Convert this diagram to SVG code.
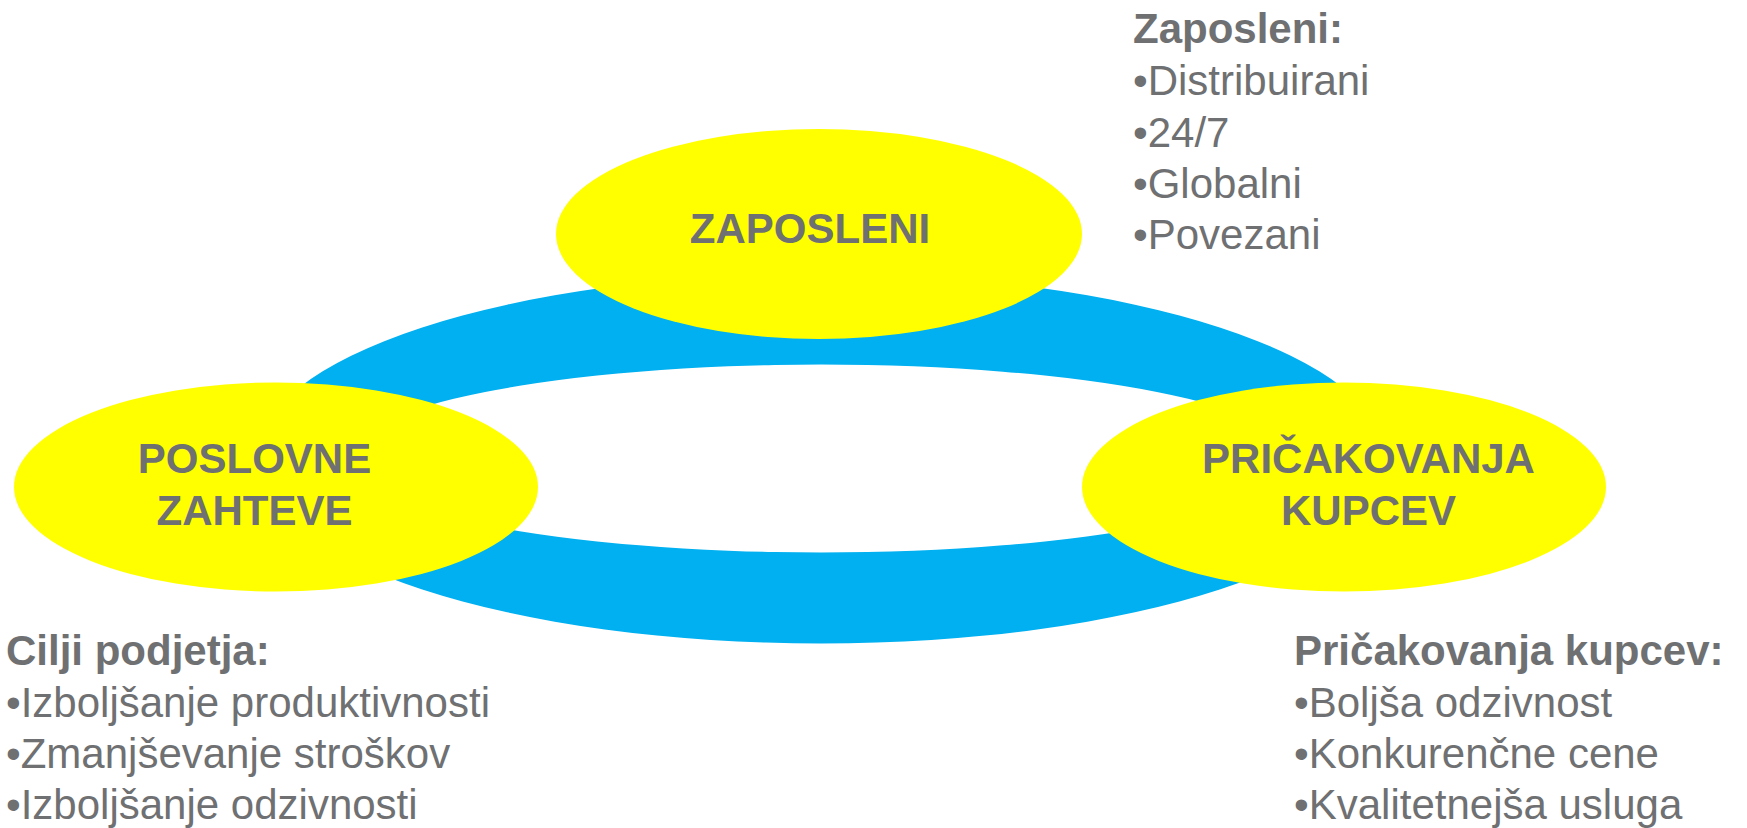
<svg xmlns="http://www.w3.org/2000/svg" width="1747" height="828" viewBox="0 0 1747 828">
<style>
  .node { fill: #FFFF00; }
  .ring { fill: #00B0F0; fill-rule: evenodd; }
  .lbl { font-family: "Liberation Sans", Arial, sans-serif; font-size: 42px; font-weight: bold; fill: #6F7072; text-anchor: middle; }
  .head { font-family: "Liberation Sans", Arial, sans-serif; font-size: 42px; font-weight: bold; fill: #6F7072; }
  .item { font-family: "Liberation Sans", Arial, sans-serif; font-size: 42px; fill: #6F7072; }
</style>
<rect width="1747" height="828" fill="#FFFFFF"/>
<g id="connectors">
  <path class="ring" d="M256,458.5 A565,185 0 1,0 1386,458.5 A565,185 0 1,0 256,458.5 Z M346,458.5 A475,94 0 1,0 1296,458.5 A475,94 0 1,0 346,458.5 Z"/>
</g>
<g id="node-zaposleni">
  <ellipse class="node" cx="819" cy="234" rx="263" ry="105"/>
  <text class="lbl" x="810" y="243">ZAPOSLENI</text>
</g>
<g id="node-poslovne">
  <ellipse class="node" cx="276" cy="487" rx="262" ry="104.5"/>
  <text class="lbl" x="254.5" y="473">POSLOVNE</text>
  <text class="lbl" x="254.5" y="525">ZAHTEVE</text>
</g>
<g id="node-pricakovanja">
  <ellipse class="node" cx="1344" cy="487" rx="262" ry="104.5"/>
  <text class="lbl" x="1368.5" y="473">PRIČAKOVANJA</text>
  <text class="lbl" x="1368.5" y="525">KUPCEV</text>
</g>
<g id="note-zaposleni">
  <text class="head" x="1133" y="43">Zaposleni:</text>
  <text class="item" x="1133" y="95">•Distribuirani</text>
  <text class="item" x="1133" y="147">•24/7</text>
  <text class="item" x="1133" y="198">•Globalni</text>
  <text class="item" x="1133" y="249">•Povezani</text>
</g>
<g id="note-cilji">
  <text class="head" x="6" y="665">Cilji podjetja:</text>
  <text class="item" x="6" y="717">•Izboljšanje produktivnosti</text>
  <text class="item" x="6" y="768">•Zmanjševanje stroškov</text>
  <text class="item" x="6" y="819">•Izboljšanje odzivnosti</text>
</g>
<g id="note-kupci">
  <text class="head" x="1294" y="665">Pričakovanja kupcev:</text>
  <text class="item" x="1294" y="717">•Boljša odzivnost</text>
  <text class="item" x="1294" y="768">•Konkurenčne cene</text>
  <text class="item" x="1294" y="819">•Kvalitetnejša usluga</text>
</g>
</svg>
